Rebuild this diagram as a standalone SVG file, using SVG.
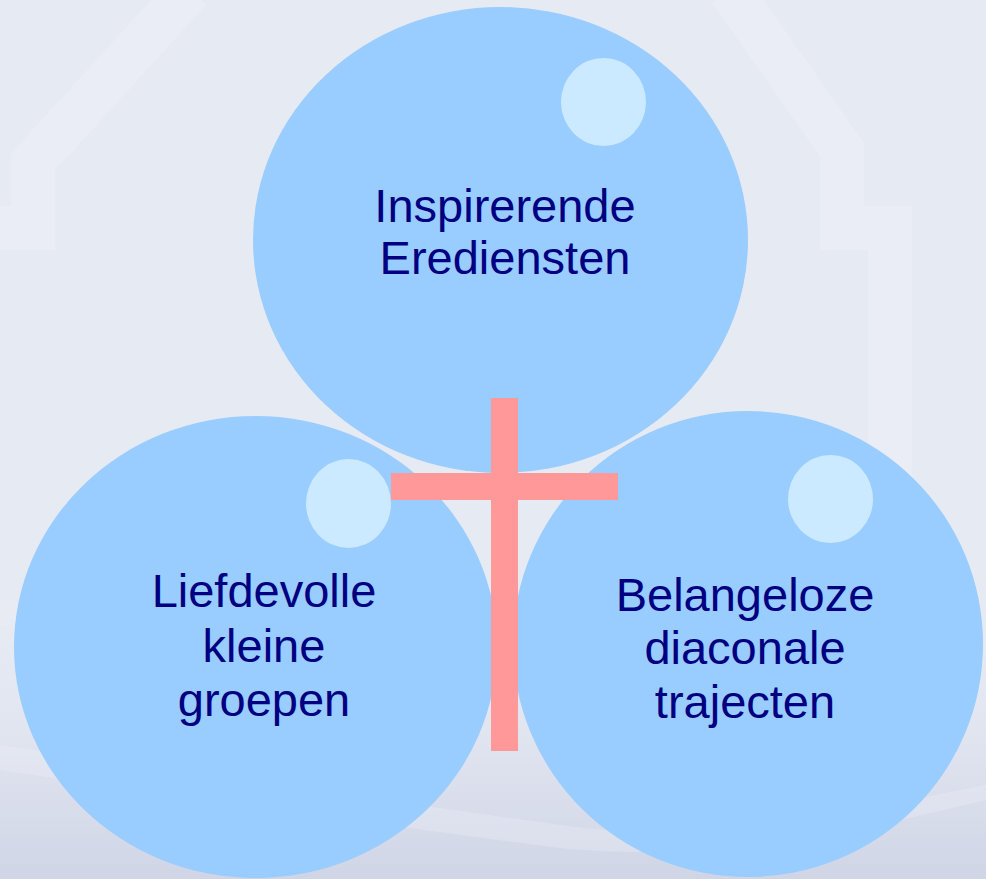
<svg xmlns="http://www.w3.org/2000/svg" width="986" height="879" viewBox="0 0 986 879">
<defs>
<style>
.bubble{fill:#99ccff}
.shine{fill:#cceaff}
.lbl{font-family:"Liberation Sans",Arial,sans-serif;font-size:47px;fill:#000080;text-anchor:middle}
.house{fill:none;stroke:#ebeef6;stroke-width:44;stroke-linejoin:miter;opacity:0.7}
</style>
<linearGradient id="bottom" x1="0" y1="0" x2="0" y2="1">
<stop offset="0" stop-color="#e6eaf3" stop-opacity="0"/>
<stop offset="0.55" stop-color="#dfe3ef"/>
<stop offset="1" stop-color="#d0d5e6"/>
</linearGradient>
</defs>
<g id="background">
<rect x="0" y="0" width="986" height="879" fill="#e6eaf3"/>
<rect x="0" y="600" width="986" height="279" fill="url(#bottom)"/>
<path d="M0,745 C200,775 420,805 560,825 C720,848 880,805 986,785 L986,800 C880,825 720,865 560,848 C420,830 200,800 0,770 Z" fill="#eceef6" opacity="0.35"/>
<path d="M0,600 C120,610 250,640 380,700 L380,715 C250,660 120,635 0,625 Z" fill="#eef0f7" opacity="0.3"/>
<polyline class="house" points="190,-10 33,162 33,228 0,228"/>
<polyline class="house" points="730,-10 842,150 842,228 890,228 890,600"/>
</g>
<g id="node-top">
<ellipse class="bubble" cx="500.5" cy="240" rx="247.5" ry="233"/>
<ellipse class="shine" cx="603.5" cy="102" rx="42.5" ry="44"/>
<text class="lbl" x="505" y="222">Inspirerende</text>
<text class="lbl" x="505" y="274">Erediensten</text>
</g>
<g id="node-left">
<ellipse class="bubble" cx="255.5" cy="647" rx="241.5" ry="231"/>
<ellipse class="shine" cx="348.5" cy="503.5" rx="42.5" ry="44.5"/>
<text class="lbl" x="264" y="607">Liefdevolle</text>
<text class="lbl" x="264" y="662">kleine</text>
<text class="lbl" x="264" y="716">groepen</text>
</g>
<g id="node-right">
<ellipse class="bubble" cx="748" cy="644" rx="235" ry="233"/>
<ellipse class="shine" cx="830.5" cy="499" rx="42.5" ry="44"/>
<text class="lbl" x="745" y="611">Belangeloze</text>
<text class="lbl" x="745" y="664">diaconale</text>
<text class="lbl" x="745" y="718">trajecten</text>
</g>
<g id="cross">
<rect x="491" y="398" width="27" height="353" fill="#ff9999"/>
<rect x="391" y="473" width="227" height="27" fill="#ff9999"/>
</g>
</svg>
